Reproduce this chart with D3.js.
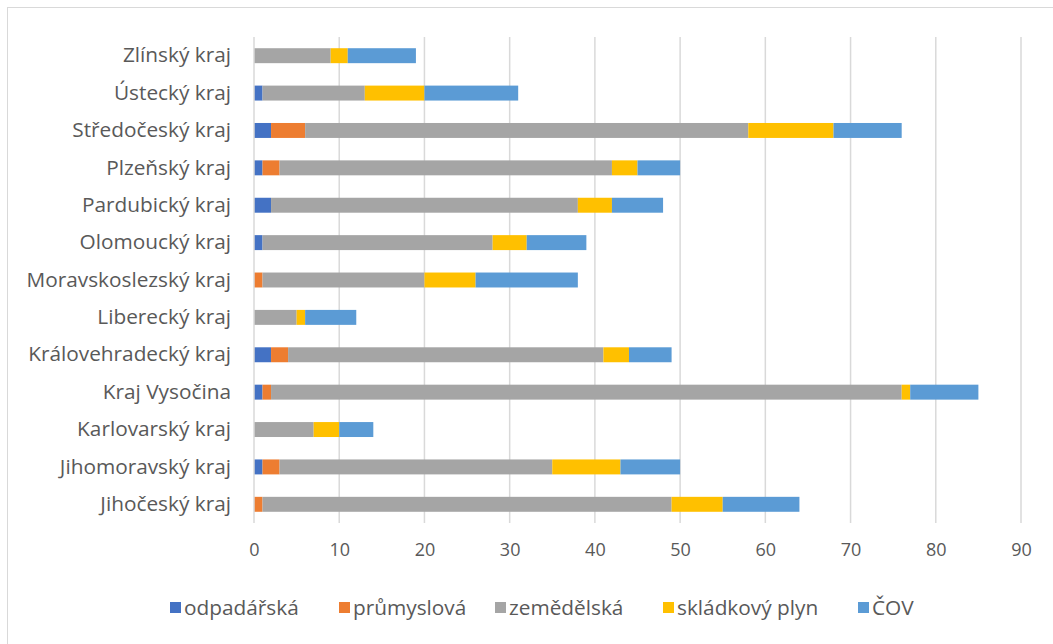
<!DOCTYPE html>
<html>
<head>
<meta charset="utf-8">
<script src="https://cdn.jsdelivr.net/npm/d3@7"></script>
<style>
  body { margin: 0; background: #fff; }
  svg text { font-family: "Open Sans", sans-serif; }
</style>
</head>
<body>
<div id="chart"></div>
<script>
const regions = ["Zlínský kraj", "Ústecký kraj", "Středočeský kraj", "Plzeňský kraj", "Pardubický kraj",
    "Olomoucký kraj", "Moravskoslezský kraj", "Liberecký kraj", "Královehradecký kraj", "Kraj Vysočina",
    "Karlovarský kraj", "Jihomoravský kraj", "Jihočeský kraj"];
const seriesNames = ["odpadářská", "průmyslová", "zemědělská", "skládkový plyn", "ČOV"];
const seriesColors = ["#4472c4", "#ed7d31", "#a5a5a5", "#ffc000", "#5b9bd5"];
const odpadarska  = [0, 1, 2, 1, 2, 1, 0, 0, 2, 1, 0, 1, 0];
const prumyslova  = [0, 0, 4, 2, 0, 0, 1, 0, 2, 1, 0, 2, 1];
const zemedelska  = [9, 12, 52, 39, 36, 27, 19, 5, 37, 74, 7, 32, 48];
const skladkovy   = [2, 7, 10, 3, 4, 4, 6, 1, 3, 1, 3, 8, 6];
const cov         = [8, 11, 8, 5, 6, 7, 12, 6, 5, 8, 4, 7, 9];
const xTicks = [0, 10, 20, 30, 40, 50, 60, 70, 80, 90];

const seriesValues = [odpadarska, prumyslova, zemedelska, skladkovy, cov];
const rows = regions.map((r, i) => {
    const row = { region: r };
    seriesNames.forEach((s, j) => row[s] = seriesValues[j][i]);
    return row;
});

const W = 1053, H = 644;
const margin = { top: 37, right: 32, bottom: 121, left: 254 };
const width = W - margin.left - margin.right;
const height = H - margin.top - margin.bottom;

const svg = d3.select("#chart").append("svg")
    .attr("width", W)
    .attr("height", H);

svg.append("rect")
    .attr("x", 7.5).attr("y", 7.5)
    .attr("width", 1100).attr("height", 700)
    .attr("fill", "#fff")
    .attr("stroke", "#d9d9d9");

const g = svg.append("g")
    .attr("transform", `translate(${margin.left},${margin.top})`);

const x = d3.scaleLinear().domain([0, 90]).range([0, width]);
const y = d3.scaleBand().domain(regions).range([0, height]).paddingInner(0.6).paddingOuter(0.3);

// grid
g.selectAll(".grid")
    .data(xTicks.slice(1))
    .join("line")
    .attr("x1", d => x(d)).attr("x2", d => x(d))
    .attr("y1", 0).attr("y2", height)
    .attr("stroke", "#d9d9d9")
    .attr("stroke-width", 1.5);

const stacked = d3.stack().keys(seriesNames)(rows);

g.selectAll(".series")
    .data(stacked)
    .join("g")
    .attr("fill", (d, i) => seriesColors[i])
    .selectAll("rect")
    .data(d => d)
    .join("rect")
    .attr("x", d => x(d[0]))
    .attr("y", d => y(d.data.region))
    .attr("width", d => x(d[1]) - x(d[0]))
    .attr("height", y.bandwidth());

// category axis line
g.append("line")
    .attr("x1", 0).attr("x2", 0)
    .attr("y1", 0).attr("y2", height)
    .attr("stroke", "#d9d9d9")
    .attr("stroke-width", 1.5);

const yAxis = g.append("g")
    .call(d3.axisLeft(y).tickSize(0).tickPadding(23));
yAxis.select(".domain").remove();
yAxis.selectAll("text")
    .style("font-size", "20.8px")
    .style("fill", "#595959");

const xAxis = g.append("g")
    .attr("transform", `translate(0,${height})`)
    .call(d3.axisBottom(x).tickValues(xTicks).tickSize(0).tickPadding(20));
xAxis.select(".domain").remove();
xAxis.selectAll("text")
    .style("font-size", "18px")
    .style("fill", "#595959");

// legend
const legendX = [170, 339, 495, 663, 858];
const legend = svg.append("g")
    .selectAll("g")
    .data(seriesNames)
    .join("g")
    .attr("transform", (d, i) => `translate(${legendX[i]},608)`);

legend.append("rect")
    .attr("x", 0).attr("y", -6)
    .attr("width", 11).attr("height", 11)
    .attr("fill", (d, i) => seriesColors[i]);

legend.append("text")
    .attr("x", 14).attr("y", 0)
    .attr("dy", "0.35em")
    .style("font-size", "20.8px")
    .style("fill", "#595959")
    .text(d => d);
</script>
</body>
</html>
